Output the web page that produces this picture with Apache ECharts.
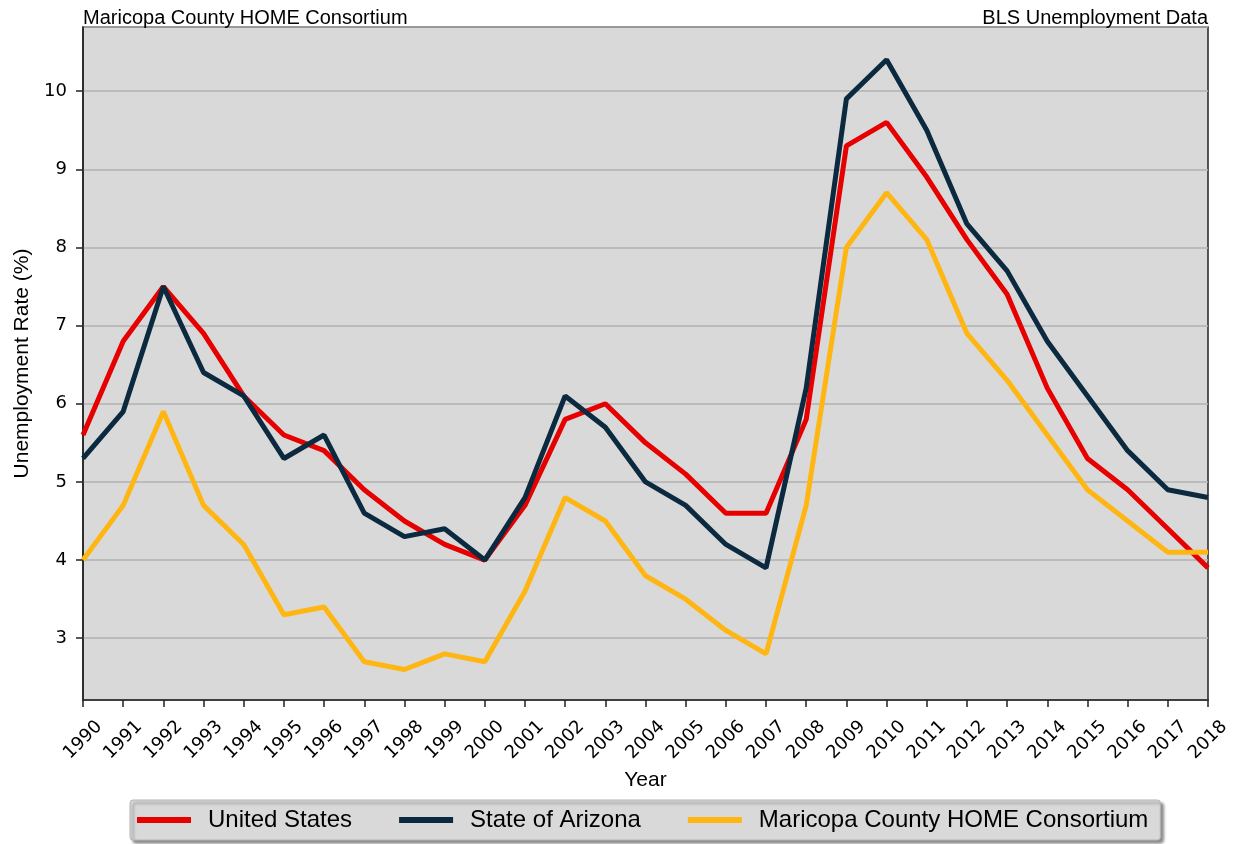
<!DOCTYPE html>
<html>
<head>
<meta charset="utf-8">
<script src="https://cdn.jsdelivr.net/npm/echarts@6/dist/echarts.min.js"></script>
<style>
  html, body { margin: 0; padding: 0; background: #fff; }
  #chart { width: 1236px; height: 844px; }
</style>
</head>
<body>
<div id="chart"></div>
<script>
// 年份
var years = ['1990','1991','1992','1993','1994','1995','1996','1997','1998','1999',
  '2000','2001','2002','2003','2004','2005','2006','2007','2008','2009',
  '2010','2011','2012','2013','2014','2015','2016','2017','2018'];

var usData = [5.6, 6.8, 7.5, 6.9, 6.1, 5.6, 5.4, 4.9, 4.5, 4.2,
  4.0, 4.7, 5.8, 6.0, 5.5, 5.1, 4.6, 4.6, 5.8, 9.3,
  9.6, 8.9, 8.1, 7.4, 6.2, 5.3, 4.9, 4.4, 3.9];

var azData = [5.3, 5.9, 7.5, 6.4, 6.1, 5.3, 5.6, 4.6, 4.3, 4.4,
  4.0, 4.8, 6.1, 5.7, 5.0, 4.7, 4.2, 3.9, 6.2, 9.9,
  10.4, 9.5, 8.3, 7.7, 6.8, 6.1, 5.4, 4.9, 4.8];

var maricopaData = [4.0, 4.7, 5.9, 4.7, 4.2, 3.3, 3.4, 2.7, 2.6, 2.8,
  2.7, 3.6, 4.8, 4.5, 3.8, 3.5, 3.1, 2.8, 4.7, 8.0,
  8.7, 8.1, 6.9, 6.3, 5.6, 4.9, 4.5, 4.1, 4.1];

var myChart = echarts.init(document.getElementById('chart'));

var tickFont = 'DejaVu Sans';
var textFont = 'Liberation Sans';

var option = {
    animation: false,
    title: [
        {
            text: 'Maricopa County HOME Consortium',
            left: 83,
            top: 8,
            padding: 0,
            textStyle: { fontFamily: textFont, fontSize: 20, fontWeight: 'normal', color: '#000' }
        },
        {
            text: 'BLS Unemployment Data',
            right: 28,
            top: 8,
            padding: 0,
            textStyle: { fontFamily: textFont, fontSize: 20, fontWeight: 'normal', color: '#000' }
        }
    ],
    legend: {
        bottom: 4,
        left: 130,
        icon: 'rect',
        itemWidth: 54,
        itemHeight: 6,
        itemGap: 47,
        padding: [8, 12, 8, 7],
        backgroundColor: '#d9d9d9',
        borderColor: '#b5b5b5',
        borderWidth: 1,
        borderRadius: 3,
        shadowColor: 'rgba(0,0,0,0.45)',
        shadowBlur: 3,
        shadowOffsetX: 3,
        shadowOffsetY: 3,
        textStyle: { fontFamily: textFont, fontSize: 24, color: '#000', padding: [0, 0, 0, 12] },
        data: ['United States', 'State of Arizona', 'Maricopa County HOME Consortium']
    },
    grid: {     //图表位置
        left: 83,
        right: 28,
        top: 27,
        bottom: 144,
        show: true,
        backgroundColor: '#d9d9d9',
        borderColor: '#222',
        borderWidth: 1.5
    },
    xAxis: {
        type: 'category',
        boundaryGap: false,
        data: years,
        name: 'Year',
        nameLocation: 'middle',
        nameGap: 69,
        nameTextStyle: { fontFamily: textFont, fontSize: 21, color: '#000' },
        axisLine: { show: true, lineStyle: { color: '#222', width: 1.5 } },
        axisTick: { show: true, length: 7, alignWithLabel: true, lineStyle: { color: '#222', width: 1.5 } },
        axisLabel: {
            rotate: 45,
            interval: 0,
            margin: 40,
            align: 'center',
            verticalAlign: 'middle',
            fontFamily: tickFont,
            fontSize: 18,
            color: '#000'
        },
        splitLine: { show: false }
    },
    yAxis: {
        type: 'value',
        min: 2.21,
        max: 10.82,
        splitNumber: 8,
        name: 'Unemployment Rate (%)',
        nameLocation: 'middle',
        nameGap: 49,
        nameTextStyle: { fontFamily: textFont, fontSize: 21, color: '#000' },
        axisLine: { show: true, lineStyle: { color: '#222', width: 1.5 } },
        axisTick: { show: true, length: 7, lineStyle: { color: '#222', width: 1.5 } },
        axisLabel: {
            showMinLabel: false,
            showMaxLabel: false,
            margin: 16,
            fontFamily: tickFont,
            fontSize: 18,
            color: '#000'
        },
        splitLine: { show: true, lineStyle: { color: '#b0b0b0', width: 1.5 } }
    },
    series: [
        {
            name: 'United States',
            type: 'line',
            data: usData,
            symbol: 'none',
            color: '#e60000',
            lineStyle: { width: 5 }
        },
        {
            name: 'State of Arizona',
            type: 'line',
            data: azData,
            symbol: 'none',
            color: '#0b2a3f',
            lineStyle: { width: 5 }
        },
        {
            name: 'Maricopa County HOME Consortium',
            type: 'line',
            data: maricopaData,
            symbol: 'none',
            color: '#ffb612',
            lineStyle: { width: 5 }
        }
    ]
};

myChart.setOption(option);
</script>
</body>
</html>
